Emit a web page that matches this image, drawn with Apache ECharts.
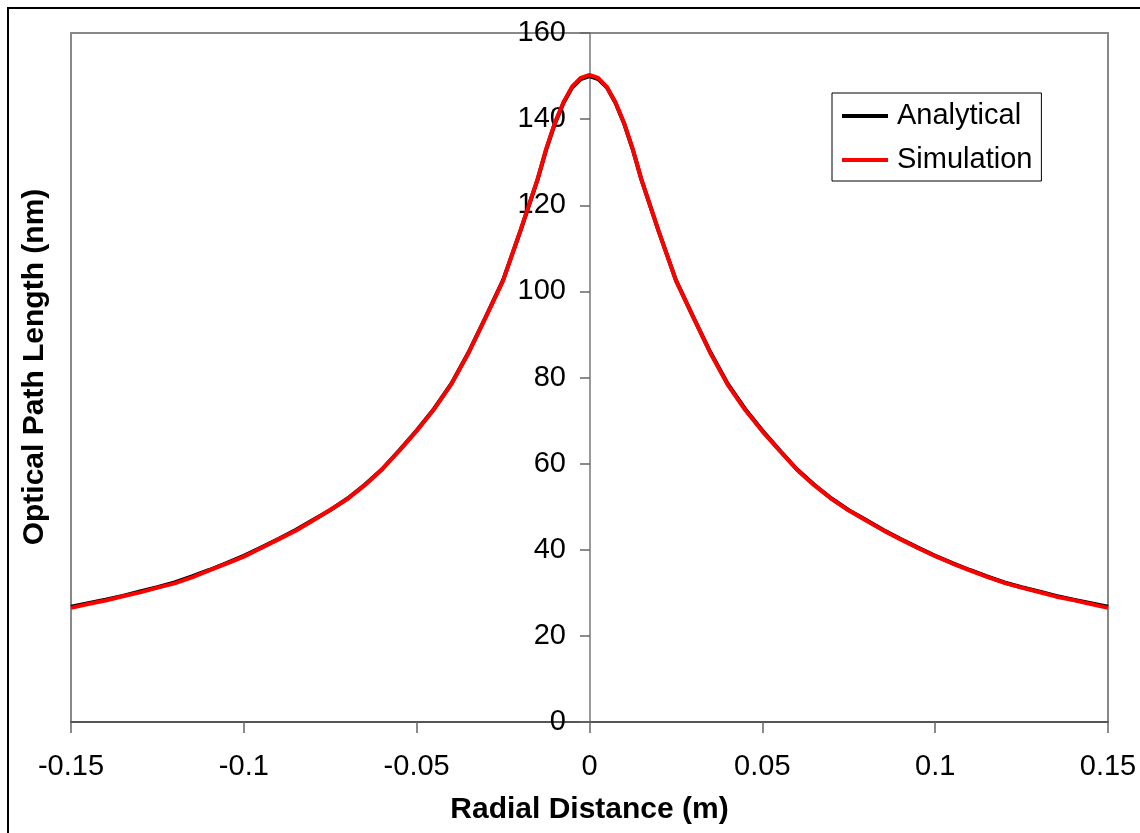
<!DOCTYPE html>
<html>
<head>
<meta charset="utf-8">
<script src="https://cdn.jsdelivr.net/npm/echarts@6/dist/echarts.min.js"></script>
<style>html,body{margin:0;padding:0;background:#fff}#c{width:1140px;height:833px}</style>
</head>
<body>
<div id="c"></div>
<script>
const radialDistance = [-0.15,-0.145,-0.14,-0.135,-0.13,-0.125,-0.12,-0.115,-0.11,-0.105,-0.1,-0.095,-0.09,-0.085,-0.08,-0.075,-0.07,-0.065,-0.06,-0.055,-0.05,-0.045,-0.04,-0.035,-0.03,-0.025,-0.02,-0.015,-0.0125,-0.01,-0.0075,-0.005,-0.0025,0,0.0025,0.005,0.0075,0.01,0.0125,0.015,0.02,0.025,0.03,0.035,0.04,0.045,0.05,0.055,0.06,0.065,0.07,0.075,0.08,0.085,0.09,0.095,0.1,0.105,0.11,0.115,0.12,0.125,0.13,0.135,0.14,0.145,0.15];
const analytical = [26.8,27.6,28.4,29.3,30.3,31.3,32.4,33.8,35.3,36.9,38.6,40.5,42.5,44.6,46.9,49.2,51.9,55.1,58.7,63.1,67.7,72.7,78.5,85.8,94.1,102.6,114.0,126.0,133.0,139.0,143.8,147.4,149.3,150.0,149.3,147.4,143.8,139.0,133.0,126.0,114.0,102.6,94.1,85.8,78.5,72.7,67.7,63.1,58.7,55.1,51.9,49.2,46.9,44.6,42.5,40.5,38.6,36.9,35.3,33.8,32.4,31.3,30.3,29.3,28.4,27.6,26.8];
const simulation = [26.5,27.4,28.2,29.2,30.1,31.2,32.2,33.6,35.2,36.8,38.4,40.4,42.4,44.4,46.8,49.3,51.8,55.0,58.7,63.0,67.6,72.6,78.4,85.7,94.0,102.5,114.1,126.1,133.2,139.2,144.0,147.6,149.6,150.3,149.6,147.5,143.9,139.1,133.1,126.0,114.0,102.5,94.0,85.6,78.3,72.5,67.5,63.0,58.6,55.0,51.8,49.1,46.8,44.5,42.4,40.4,38.5,36.8,35.2,33.7,32.3,31.2,30.2,29.1,28.3,27.4,26.5];
const xTicks = {min: -0.15, max: 0.15, interval: 0.05};
const yTicks = {min: 0, max: 160, interval: 20};

const chart = echarts.init(document.getElementById('c'), null, {renderer: 'canvas'});
const font = 'Liberation Sans, Arial, sans-serif';
chart.setOption({
  animation: false,
  backgroundColor: '#fff',
  graphic: [{
    type: 'rect', z: -10, silent: true,
    shape: {x: 8, y: 8, width: 1150, height: 850},
    style: {fill: 'none', stroke: '#000', lineWidth: 2}
  }, {
    type: 'text', x: 35, y: 367, rotation: Math.PI / 2,
    style: {text: 'Optical Path Length (nm)', font: 'bold 30px ' + font, fill: '#000', align: 'center', verticalAlign: 'middle'}
  }],
  grid: {left: 71, right: 32, top: 33, bottom: 111, show: true, borderColor: '#888', borderWidth: 2, backgroundColor: 'transparent'},
  legend: {
    orient: 'vertical', left: 832, top: 93,
    backgroundColor: '#fff', borderColor: '#000', borderWidth: 1,
    padding: [8, 9, 6, 10], itemGap: 14, itemWidth: 46, itemHeight: 4,
    icon: 'rect',
    textStyle: {fontFamily: font, fontSize: 29, color: '#000', lineHeight: 30, padding: [0, 0, 0, 4]},
    data: ['Analytical', 'Simulation']
  },
  xAxis: {
    type: 'value', min: xTicks.min, max: xTicks.max, interval: xTicks.interval,
    name: 'Radial Distance (m)', nameLocation: 'middle', nameGap: 73,
    nameTextStyle: {fontFamily: font, fontSize: 30, fontWeight: 'bold', color: '#000'},
    axisLine: {show: true, onZero: false, lineStyle: {color: '#555', width: 2}},
    axisTick: {show: true, length: 11, lineStyle: {color: '#666', width: 1.5}},
    axisLabel: {fontFamily: font, fontSize: 29, color: '#000', margin: 30,
      formatter: v => (Math.abs(v) < 1e-9 ? '0' : String(Math.round(v * 100) / 100))},
    splitLine: {show: false}
  },
  yAxis: {
    type: 'value', min: yTicks.min, max: yTicks.max, interval: yTicks.interval,
    position: 'left', offset: -519,
    axisLine: {show: true, onZero: false, lineStyle: {color: '#777', width: 1.5}},
    axisTick: {show: true, length: 10, lineStyle: {color: '#666', width: 1.5}},
    axisLabel: {fontFamily: font, fontSize: 29, color: '#000', margin: 24},
    splitLine: {show: false}
  },
  series: [
    {name: 'Analytical', type: 'line', data: radialDistance.map((x, i) => [x, analytical[i]]),
     showSymbol: false, symbol: 'none', lineStyle: {color: '#000', width: 4}, itemStyle: {color: '#000'}, z: 2},
    {name: 'Simulation', type: 'line', data: radialDistance.map((x, i) => [x, simulation[i]]),
     showSymbol: false, symbol: 'none', lineStyle: {color: '#ff0000', width: 4}, itemStyle: {color: '#ff0000'}, z: 3}
  ]
});
</script>
</body>
</html>
